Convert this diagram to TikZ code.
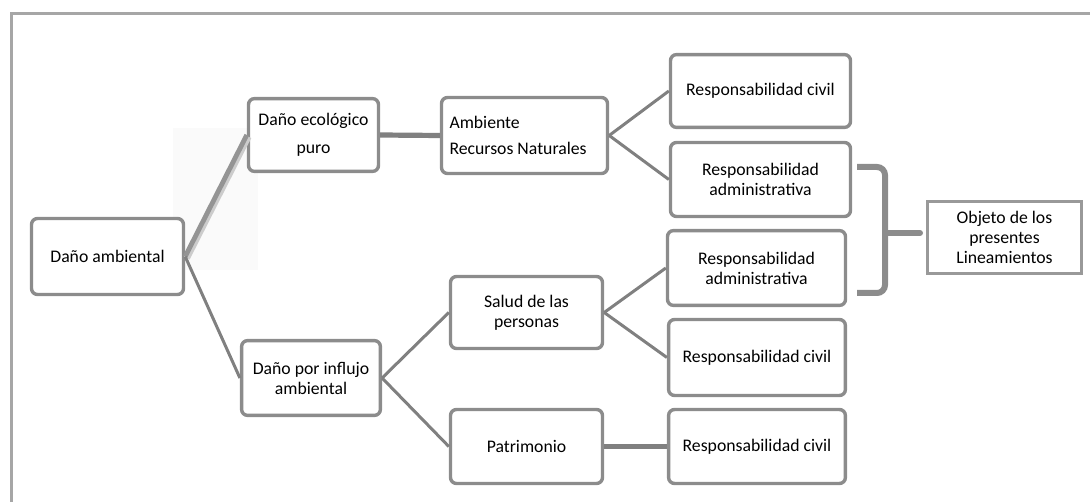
\documentclass[tikz,border=0pt]{standalone}
\usepackage{fontspec}
\setmainfont{Carlito}
\tikzset{
  caja/.style={draw=black!45, line width=0.085cm, rounded corners=0.15cm, fill=white,
    align=center, inner sep=0.1cm, font=\fontsize{12.6}{14.2}\selectfont},
  cajarecta/.style={draw=black!40, line width=0.075cm, fill=white,
    align=center, inner sep=0.1cm, font=\fontsize{12.6}{14.2}\selectfont},
  rama/.style={draw=black!50, line width=0.075cm},
  ramagruesa/.style={draw=black!50, line width=0.13cm},
  llave/.style={draw=black!45, line width=0.15cm, rounded corners=0.2cm},
  marco/.style={draw=black!35, line width=0.075cm},
}
\begin{document}
\begin{tikzpicture}
                    \useasboundingbox (0,0) rectangle (27.250000,12.525000);

                    % Drawing frame
                    \draw [marco] (0.287500,-0.100000) -- (0.287500,12.175000) -- (27.400000,12.175000);%

                    % Faint shade behind the upper branch
                    \fill [black!2] (4.325000,5.775000) rectangle (6.450000,9.325000);%

                    % Drawing box Dano ambiental
                    \node (amb) at (2.687500,6.112500) [caja, minimum width=3.80cm, minimum height=1.90cm] {Daño ambiental};%

                    % Drawing boxes of the second level
                    \node (eco) at (7.837500,9.150000) [caja, minimum width=3.25cm, minimum height=1.82cm] {Daño ecológico\\[0.2cm]puro};%
                    \node (inf) at (7.775000,3.075000) [caja, minimum width=3.47cm, minimum height=1.87cm] {Daño por influjo\\ambiental};%

                    % Drawing boxes of the third level
                    \node (rn) at (13.112500,9.137500) [caja, align=flush left, text width=3.75cm, inner xsep=0.2cm, minimum height=1.90cm] {Ambiente\\[0.15cm]Recursos Naturales};%
                    \node (sal) at (13.162500,4.712500) [caja, minimum width=3.80cm, minimum height=1.80cm] {Salud de las\\personas};%
                    \node (pat) at (13.162500,1.362500) [caja, minimum width=3.80cm, minimum height=1.85cm] {Patrimonio};%

                    % Drawing boxes of the fourth level
                    \node (rc1) at (19.012500,10.250000) [caja, minimum width=4.50cm, minimum height=1.82cm] {Responsabilidad civil};%
                    \node (ra1) at (19.012500,8.037500) [caja, minimum width=4.50cm, minimum height=1.85cm] {Responsabilidad\\administrativa};%
                    \node (ra2) at (18.912500,5.825000) [caja, minimum width=4.45cm, minimum height=1.87cm] {Responsabilidad\\administrativa};%
                    \node (rc2) at (18.925000,3.587500) [caja, minimum width=4.42cm, minimum height=1.90cm] {Responsabilidad civil};%
                    \node (rc3) at (18.925000,1.362500) [caja, minimum width=4.42cm, minimum height=1.85cm] {Responsabilidad civil};%

                    % Drawing box Objeto
                    \node (obj) at (25.112500,6.587500) [cajarecta, minimum width=3.85cm, minimum height=1.80cm] {Objeto de los\\presentes\\Lineamientos};%

                    % Drawing line amb eco (with shade)
                    \draw [draw=black!20, line width=0.16cm] ([shift={(0.04,-0.04)}]amb.east) -- ([shift={(0.04,-0.04)}]eco.west);%
                    \draw [draw=black!42, line width=0.12cm] (amb.east) -- (eco.west);%

                    % Drawing line amb inf
                    \draw [rama] (amb.east) -- (inf.west);%

                    % Drawing lines of the upper branch
                    \draw [ramagruesa] (eco.east) -- (rn.west);%
                    \draw [rama] (rn.east) -- (rc1.west);%
                    \draw [rama] (rn.east) -- (ra1.west);%

                    % Drawing lines of the lower branch
                    \draw [rama] (inf.east) -- (sal.west);%
                    \draw [rama] (inf.east) -- (pat.west);%
                    \draw [rama] (sal.east) -- (ra2.west);%
                    \draw [rama] (sal.east) -- (rc2.west);%
                    \draw [ramagruesa] (pat.east) -- (rc3.west);%

                    % Drawing brace
                    \coordinate (punta) at (23.000000,6.700000);%
                    \draw [llave] (21.425000,8.350000) -- (22.125000,8.350000) -- (22.125000,5.200000) -- (21.425000,5.200000);%
                    \draw [llave, line cap=round] (22.125000,6.700000) -- (punta);%
\end{tikzpicture}
\end{document}
